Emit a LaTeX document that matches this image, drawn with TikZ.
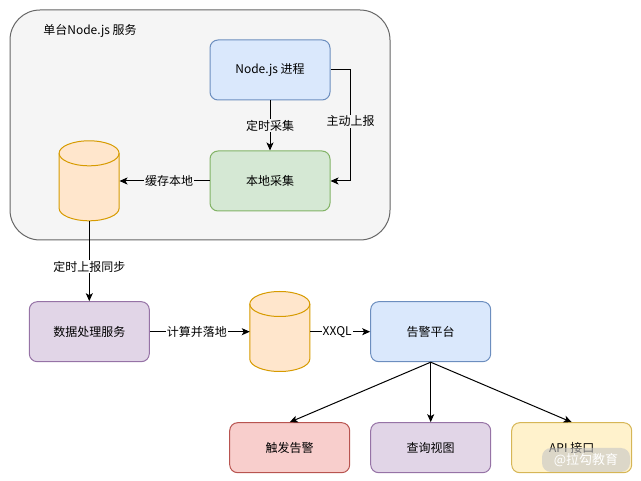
\documentclass[tikz,border=0pt]{standalone}
\usepackage{fontspec}
\setmainfont{Noto Sans CJK SC}
\usetikzlibrary{arrows.meta, positioning}

\definecolor{grpfill}{HTML}{F5F5F5}
\definecolor{grpline}{HTML}{666666}
\definecolor{bluefill}{HTML}{DAE8FC}
\definecolor{blueline}{HTML}{6C8EBF}
\definecolor{greenfill}{HTML}{D5E8D4}
\definecolor{greenline}{HTML}{82B366}
\definecolor{orangefill}{HTML}{FFE6CC}
\definecolor{orangeline}{HTML}{D79B00}
\definecolor{purplefill}{HTML}{E1D5E7}
\definecolor{purpleline}{HTML}{9673A6}
\definecolor{redfill}{HTML}{F8CECC}
\definecolor{redline}{HTML}{B85450}
\definecolor{yellowfill}{HTML}{FFF2CC}
\definecolor{yellowline}{HTML}{D6B656}

% cylinder drawn round a named 60x80 node
\newcommand{\dbdraw}[1]{%
    \draw[draw=orangeline, fill=orangefill, line width=1pt]
        (#1.north west) ++(0,12.5) -- ++(0,55)
        arc[start angle=180, end angle=0, x radius=30, y radius=12.5]
        -- ++(0,-55)
        arc[start angle=0, end angle=-180, x radius=30, y radius=12.5] -- cycle;
    \draw[draw=orangeline, line width=1pt]
        (#1.north west) ++(0,12.5)
        arc[start angle=180, end angle=0, x radius=30, y radius=12.5];
}

\begin{document}
\begin{tikzpicture}[
        x=1pt, y=-1pt,
        font=\fontsize{12pt}{14pt}\selectfont,
        box/.style={draw, rounded corners=8pt, minimum width=120pt, minimum height=60pt, align=center, inner sep=0pt, line width=1pt},
        smallbox/.style={box, minimum height=50pt},
        db/.style={minimum width=60pt, minimum height=80pt, inner sep=0pt},
        arrow/.style={-{Stealth[length=8pt, width=7pt, inset=2pt]}, line width=1pt},
        lbl/.style={fill=grpfill, inner sep=1pt},
        lblw/.style={fill=white, inner sep=1pt}
        ]
        \useasboundingbox (0,0) rectangle (641,481);

        % Node.js service group
        \node[draw=grpline, fill=grpfill, line width=1pt, rounded corners=30pt, minimum width=380pt, minimum height=230pt] (service) at (200,125) {};
        \node (service_title) at (90,31) {单台Node.js 服务};

        % Nodes
        \node[box, draw=blueline, fill=bluefill] (nodejs) at (270,70) {Node.js 进程};
        \node[box, draw=greenline, fill=greenfill, below=50pt of nodejs] (local) {本地采集};
        \node[db, left=90pt of local] (cache) {};
        \node[box, draw=purpleline, fill=purplefill, below=80pt of cache] (proc) {数据处理服务};
        \node[db, right=100pt of proc] (store) {};
        \node[box, draw=blueline, fill=bluefill, right=60pt of store] (alarm) {告警平台};
        \node[smallbox, draw=purpleline, fill=purplefill, below=60pt of alarm] (query) {查询视图};
        \node[smallbox, draw=redline, fill=redfill, left=20pt of query] (trigger) {触发告警};
        \node[smallbox, draw=yellowline, fill=yellowfill, right=20pt of query] (api) {API 接口};
        \dbdraw{cache}
        \dbdraw{store}

        \draw [arrow] (nodejs) -- node[lbl] {定时采集} (local);
        \draw [arrow] (nodejs.east) -- ++(20,0) |- node[lbl, pos=0.23] {主动上报} (local.east);
        \draw [arrow] (local) -- node[lbl, pos=0.45] {缓存本地} (cache);
        \draw [arrow] (cache) -- node[lblw, pos=0.57] {定时上报同步} (proc);
        \draw [arrow] (proc) -- node[lblw, pos=0.47] {计算并落地} (store);
        \draw [arrow] (store) -- node[lblw, pos=0.45] {XXQL} (alarm);
        \draw [arrow] (alarm.south) -- (trigger.north);
        \draw [arrow] (alarm.south) -- (query.north);
        \draw [arrow] (alarm.south) -- (api.north);

        % watermark
        \node[fill=gray!45, fill opacity=0.6, text opacity=1, text=white, rounded corners=9pt, minimum width=88pt, minimum height=24pt, font=\fontsize{13pt}{15pt}\selectfont] (mark) at (586,460) {@拉勾教育};

    \end{tikzpicture}
\end{document}
